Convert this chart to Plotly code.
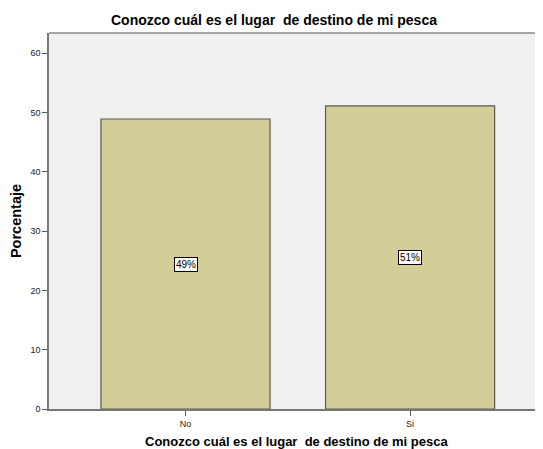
import plotly.graph_objects as go

categories = ["No", "Si"]
values = [48.9, 51.1]
labels = ["49%", "51%"]
title_text = "Conozco cuál es el lugar\u00a0 de destino de mi pesca"

FONT = "Arial, Liberation Sans"

fig = go.Figure()
fig.add_trace(go.Bar(
    x=[0, 1], y=values,
    width=0.753,
    marker=dict(color="#D3CE97", line=dict(color="#5A5A50", width=1.2)),
    hoverinfo="skip",
))
for i, (v, lab) in enumerate(zip(values, labels)):
    fig.add_annotation(
        x=i, y=v / 2, text=lab, showarrow=False,
        font=dict(family=FONT, size=10, color="black"),
        bgcolor="white", bordercolor="black", borderwidth=1, borderpad=1,
    )

# x-axis title placed as annotation for exact positioning
fig.add_annotation(
    x=0.5, y=0, xref="paper", yref="paper", yshift=-32, yanchor="middle",
    text="<b>" + title_text + "</b>", showarrow=False,
    font=dict(family=FONT, size=13, color="black"),
)

fig.update_layout(
    width=535, height=441,
    margin=dict(l=41, r=0, t=25, b=40),
    paper_bgcolor="white", plot_bgcolor="#F0F0F0",
    showlegend=False,
    title=dict(text="<b>" + title_text + "</b>", x=266 / 535, xref="container", xanchor="center",
               y=1 - 12 / 441, yref="container", yanchor="middle",
               font=dict(family=FONT, size=14, color="black")),
    xaxis=dict(
        range=[-0.608, 1.592], tickmode="array", tickvals=[0, 1], ticktext=categories,
        ticks="outside", ticklen=5, tickcolor="#555", showgrid=False, zeroline=False,
        showline=True, linecolor="#777", linewidth=1.5, mirror=False, automargin=False,
        tickfont=dict(family=FONT, size=9, color="#222"),
    ),
    yaxis=dict(
        range=[0, 63.4], tickvals=[0, 10, 20, 30, 40, 50, 60],
        ticks="outside", ticklen=5, tickcolor="#555", showgrid=False, zeroline=False,
        showline=True, linecolor="#777", linewidth=1.5, mirror=False, automargin=False,
        tickfont=dict(family=FONT, size=9, color="#222"),
        title=dict(text="<b>Porcentaje</b>", standoff=6,
                   font=dict(family=FONT, size=14.5, color="black")),
    ),
)
fig.add_shape(type="line", xref="paper", yref="paper", x0=0, x1=1, y0=1, y1=1,
              line=dict(color="#888", width=1.5))

fig.write_html("out.html")
